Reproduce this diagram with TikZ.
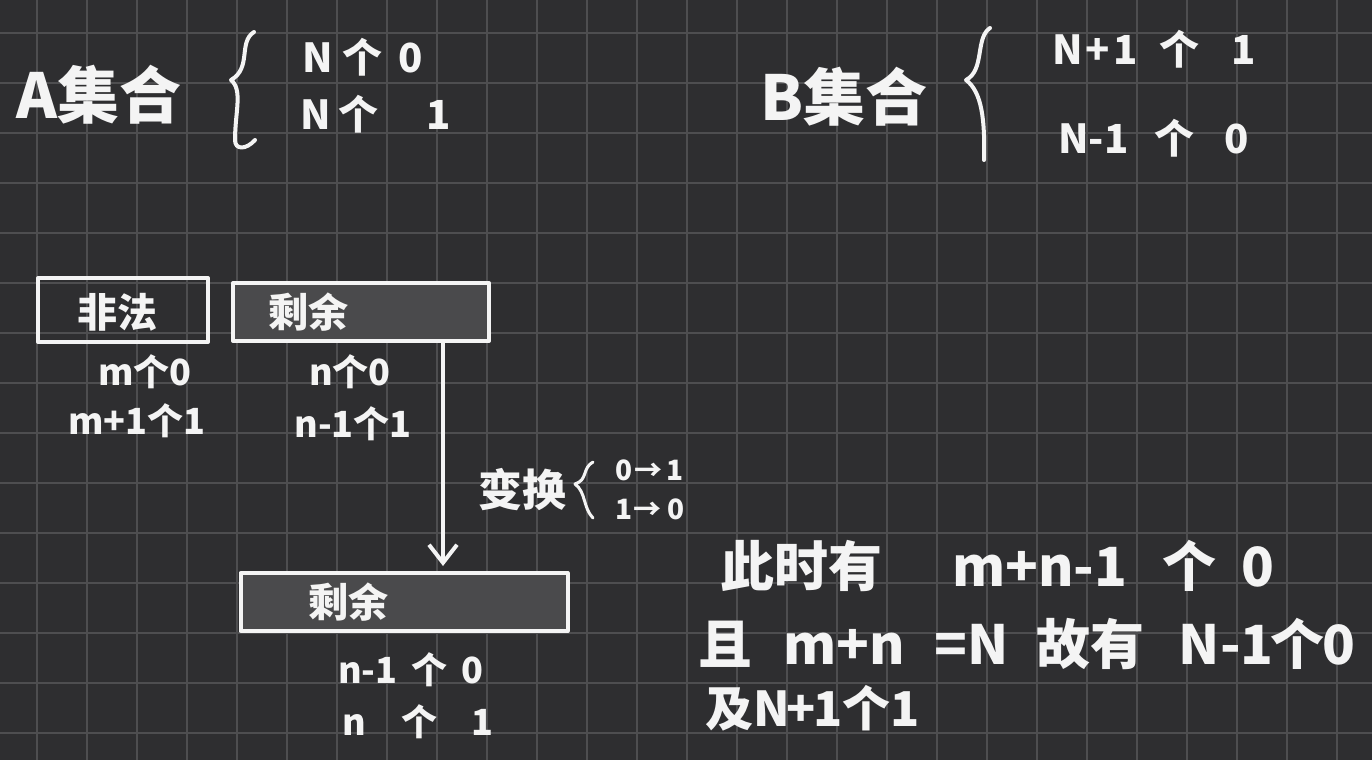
\documentclass[tikz,border=0pt]{standalone}
\usepackage{fontspec}
\setmainfont{Noto Sans CJK SC}
\usetikzlibrary{arrows.meta,positioning}

\definecolor{board}{HTML}{2E2E30}
\definecolor{gridgray}{HTML}{4E4E50}
\definecolor{boxgray}{HTML}{4A4A4C}
\definecolor{chalk}{HTML}{F4F4F4}

\tikzset{
  chalktext/.style={text=chalk, inner sep=0pt, font=\bfseries\fontsize{40}{48}\selectfont},
  bigtext/.style={chalktext, anchor=west, font=\bfseries\fontsize{62}{72}\selectfont},
  counttext/.style={chalktext, font=\bfseries\fontsize{36}{42}\selectfont},
  smalltext/.style={chalktext, anchor=west, font=\bfseries\fontsize{28}{32}\selectfont},
  linetext/.style={chalktext, anchor=west, font=\bfseries\fontsize{54}{62}\selectfont},
  chalkline/.style={draw=chalk, line width=4pt, line cap=round, line join=round},
  labelbox/.style={chalkline, minimum height=58pt, inner sep=0pt},
}

\begin{document}
\begin{tikzpicture}[x=1pt,y=-1pt]
  \fill[board] (0,0) rectangle (1372,760);
  \useasboundingbox (0,0) rectangle (1372,760);

  % grid of the board
  \foreach \gx in {37,87,...,1337}
    \draw[gridgray, line width=1.5pt] (\gx,0) -- (\gx,760);
  \foreach \gy in {33,83,...,733}
    \draw[gridgray, line width=1.5pt] (0,\gy) -- (1372,\gy);

  % set A
  \node[bigtext] (setA) at (16,95) {A集合};
  \draw[chalkline] (254,32) .. controls (238,42) and (252,68) .. (231,80)
    .. controls (243,90) and (235,112) .. (235,140)
    .. controls (235,150) and (246,150) .. (255,140);
  \node[chalktext, anchor=west] (aZero) at (302,57) {N\hspace{10pt}个\hspace{16pt}0};
  \node[chalktext, anchor=west] (aOne) at (300,114) {N\hspace{8pt}个\hspace{48pt}1};

  % set B
  \node[bigtext] (setB) at (760,97) {B集合};
  \draw[chalkline] (990,28) .. controls (975,38) and (985,70) .. (966,80)
    .. controls (982,92) and (985,120) .. (984,160);
  \node[chalktext, anchor=west] (bOne) at (1052,49) {N\hspace{3pt}+\hspace{3pt}1\hspace{22pt}个\hspace{32pt}1};
  \node[chalktext, anchor=west] (bZero) at (1058,138) {N-1\hspace{26pt}个\hspace{30pt}0};

  % boxes
  \node[labelbox, minimum width=170pt, minimum height=64pt] (illegal) at (123,310) {};
  \node[chalktext] (illegalTxt) at (117,312) {非法};
  \node[labelbox, fill=boxgray, minimum width=256pt] (rem1) at (361,312) {};
  \node[chalktext, right=37pt of rem1.west] (rem1Txt) {剩余};
  \node[labelbox, fill=boxgray, minimum width=327pt] (rem2) at (404,602) {};
  \node[chalktext, right=70pt of rem2.west] (rem2Txt) {剩余};

  % counts under the boxes
  \node[counttext] (illZero) at (145,372) {m个0};
  \node[counttext] (illOne) at (137,421) {m+1个1};
  \node[counttext] (remZero) at (350,372) {n个0};
  \node[counttext] (remOne) at (353,424) {n-1个1};
  \node[counttext, anchor=west] (newZero) at (338,670) {n-1\hspace{14pt}个\hspace{14pt}0};
  \node[counttext, anchor=west] (newOne) at (342,722) {n\hspace{36pt}个\hspace{34pt}1};

  % the swap
  \coordinate (tip) at (443,566);
  \draw[chalkline, -{Straight Barb[length=18pt, width=28pt, line width=4pt]}]
    (tip |- rem1.south) -- (tip);
  \node[chalktext, font=\bfseries\fontsize{44}{50}\selectfont] (swap) at (522,490) {变换};
  \draw[chalkline, line width=3pt] (593,462) .. controls (582,468) and (588,480) .. (575,484)
    .. controls (586,492) and (583,508) .. (593,518);
  \node[smalltext] (zeroToOne) at (615,470) {0\hspace{2pt}→\hspace{4pt}1};
  \node[smalltext] (oneToZero) at (615,509) {1\hspace{1pt}→\hspace{6pt}0};

  % conclusion
  \node[linetext] (lineOne) at (720,566)
    {此时有\hspace{70pt}m+n-1\hspace{35pt}个\hspace{25pt}0};
  \node[linetext] (lineTwo) at (698,644)
    {且\hspace{31pt}m+n\hspace{30pt}=N\hspace{28pt}故有\hspace{34pt}N-1\hspace{-3pt}个\hspace{-2pt}0};
  \node[linetext, font=\bfseries\fontsize{48}{56}\selectfont] (lineThree) at (705,708)
    {及N\hspace{-3pt}+\hspace{-3pt}1个1};
\end{tikzpicture}
\end{document}
